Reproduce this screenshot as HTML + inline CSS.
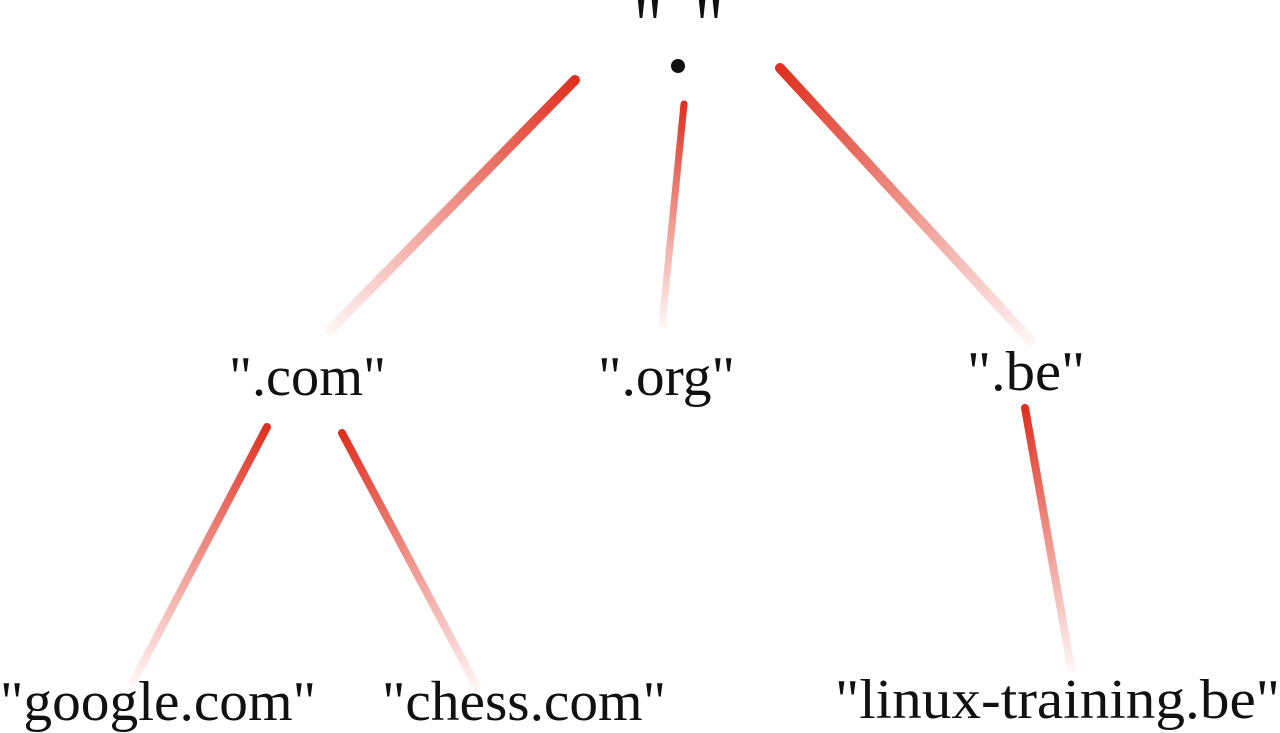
<!DOCTYPE html>
<html><head><meta charset="utf-8"><style>
html,body{margin:0;padding:0;background:#fff;}
svg{display:block;}
text{font-family:"Liberation Serif",serif;font-size:56px;fill:#111;}
</style></head><body>
<svg width="1280" height="733" viewBox="0 0 1280 733" xmlns="http://www.w3.org/2000/svg">
<defs>
<linearGradient id="g1" gradientUnits="userSpaceOnUse" x1="575" y1="80" x2="330" y2="330"><stop offset="0" stop-color="#e03020"/><stop offset="1" stop-color="#e03020" stop-opacity="0.05"/></linearGradient>
<linearGradient id="g2" gradientUnits="userSpaceOnUse" x1="684" y1="104" x2="662" y2="325"><stop offset="0" stop-color="#e03020"/><stop offset="1" stop-color="#e03020" stop-opacity="0.05"/></linearGradient>
<linearGradient id="g3" gradientUnits="userSpaceOnUse" x1="780" y1="68" x2="1030" y2="340"><stop offset="0" stop-color="#e03020"/><stop offset="1" stop-color="#e03020" stop-opacity="0.05"/></linearGradient>
<linearGradient id="g4" gradientUnits="userSpaceOnUse" x1="267" y1="427" x2="133" y2="682"><stop offset="0" stop-color="#e03020"/><stop offset="1" stop-color="#e03020" stop-opacity="0.05"/></linearGradient>
<linearGradient id="g5" gradientUnits="userSpaceOnUse" x1="342" y1="433" x2="477" y2="687"><stop offset="0" stop-color="#e03020"/><stop offset="1" stop-color="#e03020" stop-opacity="0.05"/></linearGradient>
<linearGradient id="g6" gradientUnits="userSpaceOnUse" x1="1025" y1="408" x2="1071" y2="667"><stop offset="0" stop-color="#e03020"/><stop offset="1" stop-color="#e03020" stop-opacity="0.05"/></linearGradient>
</defs>
<g stroke-linecap="round" fill="none">
<line x1="575" y1="80" x2="330" y2="330" stroke="url(#g1)" stroke-width="10"/>
<line x1="684" y1="104" x2="662" y2="325" stroke="url(#g2)" stroke-width="7"/>
<line x1="780" y1="68" x2="1030" y2="340" stroke="url(#g3)" stroke-width="10"/>
<line x1="267" y1="427" x2="133" y2="682" stroke="url(#g4)" stroke-width="8"/>
<line x1="342" y1="433" x2="477" y2="687" stroke="url(#g5)" stroke-width="8"/>
<line x1="1025" y1="408" x2="1071" y2="667" stroke="url(#g6)" stroke-width="8"/>
</g>
<text x="633" y="55" style="font-size:88px" textLength="30" lengthAdjust="spacingAndGlyphs">"</text>
<text x="694" y="55" style="font-size:88px" textLength="30" lengthAdjust="spacingAndGlyphs">"</text>
<circle cx="678" cy="66" r="7" fill="#111"/>
<text x="229" y="395" textLength="157" lengthAdjust="spacingAndGlyphs">".com"</text>
<text x="598" y="395" textLength="137" lengthAdjust="spacingAndGlyphs">".org"</text>
<text x="967" y="390" textLength="118" lengthAdjust="spacingAndGlyphs">".be"</text>
<text x="0" y="720" textLength="316" lengthAdjust="spacingAndGlyphs">"google.com"</text>
<text x="382" y="720" textLength="284" lengthAdjust="spacingAndGlyphs">"chess.com"</text>
<text x="835" y="718" textLength="445" lengthAdjust="spacingAndGlyphs">"linux-training.be"</text>
</svg>
</body></html>
